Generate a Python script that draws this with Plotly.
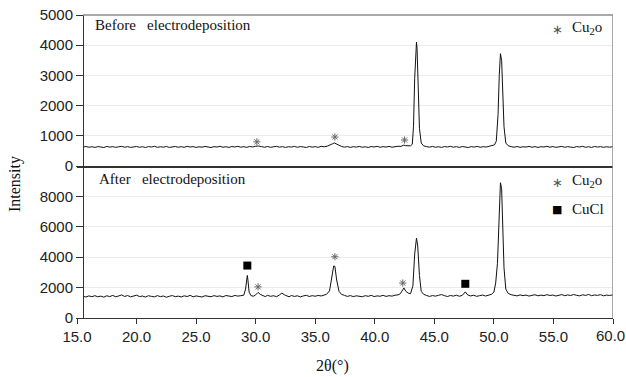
import plotly.graph_objects as go

# ---------------- data ----------------
two_theta_before = [
    15.5, 15.75, 16.0, 16.25, 16.5, 16.75, 17.0, 17.25, 17.5, 17.75,
    18.0, 18.25, 18.5, 18.75, 19.0, 19.25, 19.5, 19.75, 20.0, 20.25,
    20.5, 20.75, 21.0, 21.25, 21.5, 21.75, 22.0, 22.25, 22.5, 22.75,
    23.0, 23.25, 23.5, 23.75, 24.0, 24.25, 24.5, 24.75, 25.0, 25.25,
    25.5, 25.75, 26.0, 26.25, 26.5, 26.75, 27.0, 27.25, 27.5, 27.75,
    28.0, 28.25, 28.5, 28.75, 29.0, 29.25, 29.5, 29.75, 30.0, 30.25,
    30.5, 30.75, 31.0, 31.25, 31.5, 31.75, 32.0, 32.25, 32.5, 32.75,
    33.0, 33.25, 33.5, 33.75, 34.0, 34.25, 34.5, 34.75, 35.0, 35.25,
    35.5, 35.75, 36.0, 36.25, 36.45, 36.6, 36.75, 36.95, 37.2, 37.45,
    37.7, 37.95, 38.2, 38.45, 38.7, 38.95, 39.2, 39.45, 39.7, 39.95,
    40.2, 40.45, 40.7, 40.95, 41.2, 41.45, 41.7, 41.95, 42.2, 42.4,
    42.6, 42.8, 43.0, 43.15, 43.25, 43.35, 43.45, 43.5, 43.55, 43.65,
    43.75, 43.9, 44.1, 44.35, 44.6, 44.85, 45.1, 45.35, 45.6, 45.85,
    46.1, 46.35, 46.6, 46.85, 47.1, 47.35, 47.6, 47.85, 48.1, 48.35,
    48.6, 48.85, 49.1, 49.35, 49.6, 49.85, 50.05, 50.2, 50.35, 50.45,
    50.55, 50.65, 50.75, 50.85, 51.0, 51.2, 51.45, 51.7, 51.95, 52.2,
    52.45, 52.7, 52.95, 53.2, 53.45, 53.7, 53.95, 54.2, 54.45, 54.7,
    54.95, 55.2, 55.45, 55.7, 55.95, 56.2, 56.45, 56.7, 56.95, 57.2,
    57.45, 57.7, 57.95, 58.2, 58.45, 58.7, 58.95, 59.2, 59.45, 59.7,
    60.0,
]
intensity_before = [
    628, 645, 620, 638, 615, 642, 630, 612, 648, 625,
    640, 618, 636, 650, 622, 641, 616, 635, 646, 620,
    638, 612, 644, 627, 652, 619, 637, 624, 648, 615,
    633, 645, 621, 640, 618, 650, 628, 642, 614, 636,
    623, 647, 630, 612, 641, 626, 653, 620, 638, 616,
    644, 629, 651, 622, 640, 617, 646, 631, 655, 662,
    640, 621, 645, 618, 637, 650, 624, 641, 615, 638,
    627, 649, 620, 642, 631, 613, 646, 625, 640, 618,
    652, 636, 655, 685, 735, 765, 738, 684, 650, 625,
    642, 617, 639, 626, 648, 621, 636, 614, 645, 630,
    652, 619, 641, 627, 649, 622, 640, 655, 648, 690,
    672, 660, 668, 720, 1300, 2900, 3950, 4100, 3900, 2700,
    1250, 760, 668, 640, 625, 648, 620, 638, 615, 644,
    629, 651, 623, 640, 616, 645, 632, 612, 641, 626,
    650, 621, 639, 628, 652, 670, 700, 820, 1700, 3000,
    3720, 3500, 2400, 1300, 760, 672, 640, 622, 645, 618,
    636, 627, 649, 620, 641, 615, 638, 630, 652, 623,
    643, 617, 635, 648, 621, 640, 626, 612, 644, 629,
    651, 620, 638, 616, 646, 627, 641, 619, 637, 624,
    640,
]

two_theta_after = [
    15.5, 15.75, 16.0, 16.25, 16.5, 16.75, 17.0, 17.25, 17.5, 17.75,
    18.0, 18.25, 18.5, 18.75, 19.0, 19.25, 19.5, 19.75, 20.0, 20.25,
    20.5, 20.75, 21.0, 21.25, 21.5, 21.75, 22.0, 22.25, 22.5, 22.75,
    23.0, 23.25, 23.5, 23.75, 24.0, 24.25, 24.5, 24.75, 25.0, 25.25,
    25.5, 25.75, 26.0, 26.25, 26.5, 26.75, 27.0, 27.25, 27.5, 27.75,
    28.0, 28.25, 28.5, 28.75, 29.0, 29.15, 29.25, 29.3, 29.35, 29.45,
    29.6, 29.8, 30.0, 30.2, 30.4, 30.6, 30.8, 31.0, 31.25, 31.5,
    31.75, 32.0, 32.2, 32.4, 32.6, 32.8, 33.0, 33.25, 33.5, 33.75,
    34.0, 34.25, 34.5, 34.75, 35.0, 35.25, 35.5, 35.75, 35.95, 36.2,
    36.4, 36.55, 36.65, 36.8, 37.0, 37.2, 37.45, 37.7, 37.95, 38.2,
    38.45, 38.7, 38.95, 39.2, 39.45, 39.7, 39.95, 40.2, 40.45, 40.7,
    40.95, 41.2, 41.45, 41.7, 41.95, 42.15, 42.3, 42.45, 42.6, 42.8,
    43.0, 43.2, 43.35, 43.5, 43.6, 43.75, 43.9, 44.1, 44.35, 44.6,
    44.85, 45.1, 45.35, 45.6, 45.85, 46.1, 46.35, 46.6, 46.85, 47.1,
    47.35, 47.6, 47.8, 48.05, 48.3, 48.55, 48.8, 49.05, 49.3, 49.55,
    49.8, 50.0, 50.15, 50.3, 50.45, 50.55, 50.65, 50.75, 50.85, 51.0,
    51.2, 51.45, 51.7, 51.95, 52.2, 52.45, 52.7, 52.95, 53.2, 53.45,
    53.7, 53.95, 54.2, 54.45, 54.7, 54.95, 55.2, 55.45, 55.7, 55.95,
    56.2, 56.45, 56.7, 56.95, 57.2, 57.45, 57.7, 57.95, 58.2, 58.45,
    58.7, 58.95, 59.2, 59.45, 59.7, 60.0,
]
intensity_after = [
    1430, 1380, 1455, 1400, 1470, 1395, 1440, 1372, 1462, 1410,
    1485, 1398, 1450, 1520, 1415, 1478, 1390, 1455, 1500, 1410,
    1445, 1378, 1468, 1420, 1390, 1472, 1405, 1448, 1365, 1430,
    1475, 1402, 1440, 1385, 1460, 1412, 1490, 1395, 1452, 1418,
    1380, 1465, 1430, 1398, 1472, 1420, 1455, 1390, 1478, 1432,
    1410, 1485, 1440, 1468, 1500, 1900, 2750, 2800, 2500, 1700,
    1480, 1430, 1520, 1680, 1550, 1470, 1410, 1490, 1425, 1468,
    1400, 1520, 1640, 1530, 1450, 1395, 1478, 1420, 1460, 1388,
    1452, 1490, 1415, 1470, 1430, 1485, 1448, 1510, 1560, 1780,
    2600, 3420, 3400, 2500, 1750, 1560, 1490, 1420, 1475, 1405,
    1460, 1432, 1398, 1470, 1425, 1488, 1410, 1455, 1430, 1492,
    1420, 1468, 1440, 1500, 1520, 1600, 1800, 1980, 1760, 1640,
    1600, 2100, 4200, 5250, 4800, 2800, 1750, 1560, 1480, 1420,
    1475, 1438, 1495, 1540, 1470, 1415, 1480, 1440, 1500, 1430,
    1492, 1720, 1520, 1450, 1498, 1425, 1470, 1510, 1445, 1488,
    1560, 1700, 2300, 3600, 7400, 8900, 8500, 6000, 3300, 1900,
    1620, 1530, 1490, 1455, 1520, 1470, 1510, 1440, 1495, 1528,
    1460, 1505, 1470, 1535, 1480, 1512, 1445, 1500, 1540, 1465,
    1520, 1478, 1545, 1490, 1458, 1525, 1485, 1550, 1470, 1515,
    1488, 1535, 1460, 1508, 1482, 1525,
]

# phase markers
cu2o_before_x = [30.1, 36.65, 42.5]
cu2o_before_y = [800, 960, 860]
cu2o_after_x = [30.2, 36.65, 42.35]
cu2o_after_y = [2050, 4030, 2300]
cucl_after_x = [29.3, 47.6]
cucl_after_y = [3450, 2250]

x_ticks = [15, 20, 25, 30, 35, 40, 45, 50, 55, 60]
x_tick_labels = ["15.0", "20.0", "25.0", "30.0", "35.0", "40.0", "45.0", "50.0", "55.0", "60.0"]
y_ticks_before = [0, 1000, 2000, 3000, 4000, 5000]
y_ticks_after = [0, 2000, 4000, 6000, 8000]
x_start, x_end = 15.5, 60

SERIF = "Liberation Serif, Times New Roman, serif"
SANS = "Liberation Sans, Arial, sans-serif"

fig = go.Figure()
fig.add_trace(go.Scatter(x=two_theta_before, y=intensity_before, xaxis="x2", yaxis="y2",
                         mode="lines", line=dict(color="#111111", width=1), showlegend=False))
fig.add_trace(go.Scatter(x=two_theta_after, y=intensity_after, xaxis="x", yaxis="y",
                         mode="lines", line=dict(color="#111111", width=1), showlegend=False))

ast = dict(symbol="asterisk-open", size=6, line=dict(color="#666666", width=1), color="#666666")
sq = dict(symbol="square", size=8, color="#000000")

fig.add_trace(go.Scatter(x=cu2o_before_x, y=cu2o_before_y, xaxis="x2", yaxis="y2", mode="markers",
                         marker=ast, showlegend=False))
fig.add_trace(go.Scatter(x=cu2o_after_x, y=cu2o_after_y, xaxis="x", yaxis="y", mode="markers",
                         marker=ast, showlegend=False))
fig.add_trace(go.Scatter(x=cucl_after_x, y=cucl_after_y, xaxis="x", yaxis="y", mode="markers",
                         marker=sq, showlegend=False))

H0 = 318.0   # pixel row of the bottom plot edge
PH = 303.0   # plot height in pixels
PL = 77.0    # pixel column of the plot left edge
PW = 536.0   # plot width in pixels


def px(x):
    return (x - PL) / PW


def py(y):
    return (H0 - y) / PH


split = 152 / PH
ypos = 6 / PW
tickfont = dict(family=SANS, size=15, color="#222222")
serif15 = dict(family=SERIF, size=15, color="#111111")


def label(text, x, y, anchor="left", font=serif15):
    return dict(text=text, xref="paper", yref="paper", x=px(x), y=py(y), xanchor=anchor,
                yanchor="middle", showarrow=False, font=font)


ast_font = dict(family="DejaVu Sans", size=13, color="#555555")
sq_font = dict(family="DejaVu Sans", size=11, color="#000000")

# the last tick label sits against the right edge of the picture, as in the original,
# so it is written as a text nudged a few pixels inward instead of an axis label
axis_labels = x_tick_labels[:-1] + [""]

fig.update_layout(
    width=626, height=377,
    margin=dict(l=77, r=13, t=15, b=59, autoexpand=False),
    paper_bgcolor="white", plot_bgcolor="white",
    showlegend=False,
    xaxis=dict(domain=[0, 1], range=[15, 60], anchor="y", tickvals=x_ticks, ticktext=axis_labels,
               ticks="outside", ticklen=5, tickcolor="#333333", showline=True, linecolor="#333333",
               linewidth=1, showgrid=False, zeroline=False, tickfont=tickfont,
               ticklabeloverflow="allow", automargin=False),
    xaxis2=dict(domain=[0, 1], range=[15, 60], anchor="y2", showticklabels=False, ticks="",
                showline=True, linecolor="#333333", linewidth=1.5, showgrid=False, zeroline=False,
                automargin=False),
    yaxis=dict(domain=[0, split], range=[0, 10000], anchor="free", position=ypos,
               tickvals=y_ticks_after, ticks="outside", ticklen=7, tickcolor="#333333",
               showline=True, linecolor="#333333", linewidth=1, gridcolor="#ebebeb",
               zeroline=False, tickfont=tickfont, automargin=False, ticklabeloverflow="allow"),
    yaxis2=dict(domain=[split, 1], range=[0, 5000], anchor="free", position=ypos,
                tickvals=y_ticks_before, ticks="outside", ticklen=7, tickcolor="#333333",
                showline=True, linecolor="#333333", linewidth=1, gridcolor="#ebebeb",
                zeroline=False, tickfont=tickfont, automargin=False, ticklabeloverflow="allow"),
    shapes=[
        dict(type="line", xref="x", yref="paper", x0=x_start, x1=x_end, y0=1, y1=1,
             line=dict(color="#8c8c8c", width=1.5)),
        dict(type="line", xref="x", yref="paper", x0=x_end, x1=x_end, y0=0, y1=1,
             line=dict(color="#8c8c8c", width=1.5)),
    ],
    annotations=[
        label("Before\u00a0\u00a0\u00a0electrodeposition", 93, 25),
        label("After\u00a0\u00a0\u00a0electrodeposition", 97, 179),
        label("∗", 557, 29, anchor="center", font=ast_font),
        label("Cu<sub>2</sub>o", 570, 28),
        label("∗", 557, 182, anchor="center", font=ast_font),
        label("Cu<sub>2</sub>o", 570, 181),
        label("■", 557, 209, anchor="center", font=sq_font),
        label("CuCl", 570, 209),
        dict(text=x_tick_labels[-1], xref="paper", yref="paper", x=1, xshift=-3, y=0,
             yshift=-17, xanchor="center", yanchor="middle", showarrow=False, font=tickfont),
        dict(text="Intensity", xref="paper", yref="paper", x=0, xshift=-62,
             y=py(184), xanchor="center", yanchor="middle", textangle=-90,
             showarrow=False, font=dict(family=SERIF, size=16, color="#111111")),
        dict(text="2θ(°)", xref="paper", yref="paper", x=px(332), y=0, yshift=-48,
             xanchor="center", yanchor="middle", showarrow=False,
             font=dict(family=SERIF, size=16, color="#111111")),
    ],
)

fig.write_html("out.html", config={"displayModeBar": False},
               post_script="document.body.style.margin = '0px';")
